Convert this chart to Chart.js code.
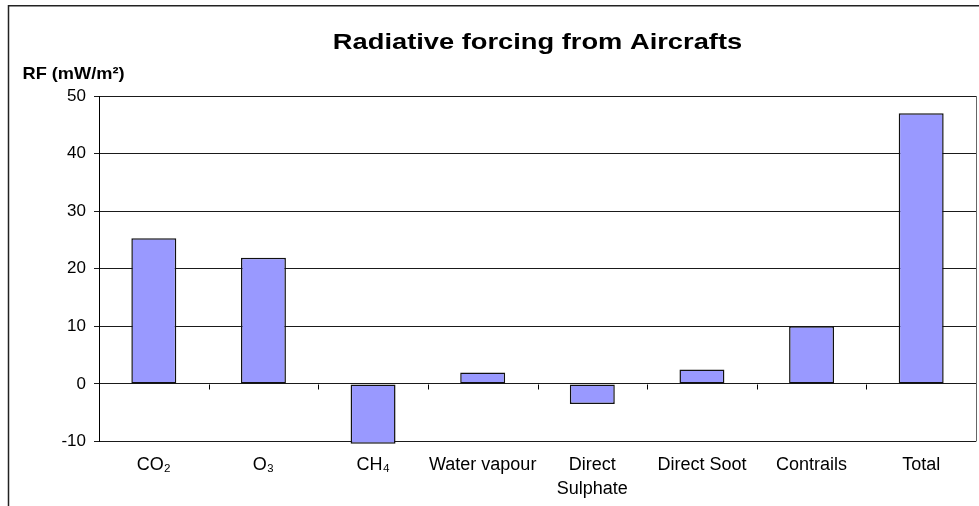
<!DOCTYPE html>
<html>
<head>
<meta charset="utf-8">
<script src="https://cdn.jsdelivr.net/npm/chart.js@4/dist/chart.umd.min.js"></script>
<style>
  html, body { margin: 0; padding: 0; background: #fff; }
  #wrap { width: 979px; height: 506px; position: relative; }
</style>
</head>
<body>
<div id="wrap"><canvas id="c" width="979" height="506"></canvas></div>
<script>
// Radiative forcing contributions from aviation (mW/m²)
const categories = ['CO₂', 'O₃', 'CH₄', 'Water vapour', ['Direct', 'Sulphate'], 'Direct Soot', 'Contrails', 'Total'];
const forcing = [25.3, 21.9, -10.4, 2.0, -3.5, 2.5, 10.0, 47.0];
const yTicks = [-10, 0, 10, 20, 30, 40, 50];

const titleText = 'Radiative forcing from Aircrafts';
const unitText = 'RF (mW/m²)';

const FONT = '"Liberation Sans", Arial, Helvetica, sans-serif';

// Frame, plot-box border, zero-line tick marks and the stretched headings
const decorations = {
  id: 'decorations',
  beforeDraw(chart) {
    const ctx = chart.ctx;
    ctx.save();
    ctx.fillStyle = '#fff';
    ctx.fillRect(0, 0, chart.width, chart.height);
    ctx.strokeStyle = '#222';
    ctx.lineWidth = 1.5;
    ctx.beginPath();
    ctx.moveTo(8.5, chart.height);
    ctx.lineTo(8.5, 5.75);
    ctx.lineTo(chart.width, 5.75);
    ctx.stroke();
    ctx.restore();
  },
  afterDraw(chart) {
    const ctx = chart.ctx;
    const area = chart.chartArea;
    const xs = chart.scales.x;
    const ys = chart.scales.y;
    ctx.save();
    // right edge of the plot box
    ctx.strokeStyle = '#666';
    ctx.lineWidth = 1;
    ctx.beginPath();
    ctx.moveTo(Math.round(area.right) + 0.5, area.top);
    ctx.lineTo(Math.round(area.right) + 0.5, area.bottom);
    ctx.stroke();
    // tick marks on the zero line between categories
    const y0 = Math.round(ys.getPixelForValue(0)) + 0.5;
    ctx.strokeStyle = '#000';
    ctx.beginPath();
    for (let i = 1; i < categories.length; i++) {
      const x = Math.round((xs.getPixelForValue(i - 1) + xs.getPixelForValue(i)) / 2) + 0.5;
      ctx.moveTo(x, y0);
      ctx.lineTo(x, y0 + 5);
    }
    ctx.stroke();
    // chart title
    ctx.fillStyle = '#000';
    ctx.textBaseline = 'alphabetic';
    ctx.textAlign = 'center';
    ctx.font = 'bold 22px ' + FONT;
    ctx.translate((area.left + area.right) / 2, 48.5);
    ctx.scale(1.24, 1);
    ctx.fillText(titleText, 0, 0);
    ctx.restore();
    // axis unit label
    ctx.save();
    ctx.fillStyle = '#000';
    ctx.textBaseline = 'alphabetic';
    ctx.textAlign = 'left';
    ctx.font = 'bold 17px ' + FONT;
    ctx.translate(22.5, 78.5);
    ctx.scale(1.07, 1);
    ctx.fillText(unitText, 0, 0);
    ctx.restore();
  }
};

new Chart(document.getElementById('c'), {
  type: 'bar',
  data: {
    labels: categories,
    datasets: [{
      data: forcing,
      backgroundColor: '#9999FF',
      borderColor: '#111',
      borderWidth: 1.5,
      borderSkipped: false,
      categoryPercentage: 1,
      barPercentage: 0.41,
      clip: false
    }]
  },
  options: {
    responsive: false,
    animation: false,
    devicePixelRatio: 1,
    layout: { padding: { top: 96, right: 3, left: 0, bottom: 0 } },
    plugins: {
      legend: { display: false },
      title: { display: false },
      tooltip: { enabled: false }
    },
    scales: {
      x: {
        grid: { display: false, drawTicks: false },
        border: { display: false },
        ticks: {
          color: '#000',
          font: { family: FONT, size: 18, lineHeight: 1.3 },
          padding: 12,
          maxRotation: 0,
          autoSkip: false
        },
        afterFit(scale) { scale.height = 64.5; }
      },
      y: {
        min: -10,
        max: 50,
        afterBuildTicks(scale) { scale.ticks = yTicks.map(v => ({ value: v })); },
        grid: { color: '#1a1a1a', lineWidth: 1, tickLength: 5, drawTicks: true },
        border: { display: true, color: '#000', width: 1 },
        ticks: {
          color: '#000',
          font: { family: FONT, size: 17 },
          padding: 8
        },
        afterFit(scale) { scale.width = 99; }
      }
    }
  },
  plugins: [decorations]
});
</script>
</body>
</html>
